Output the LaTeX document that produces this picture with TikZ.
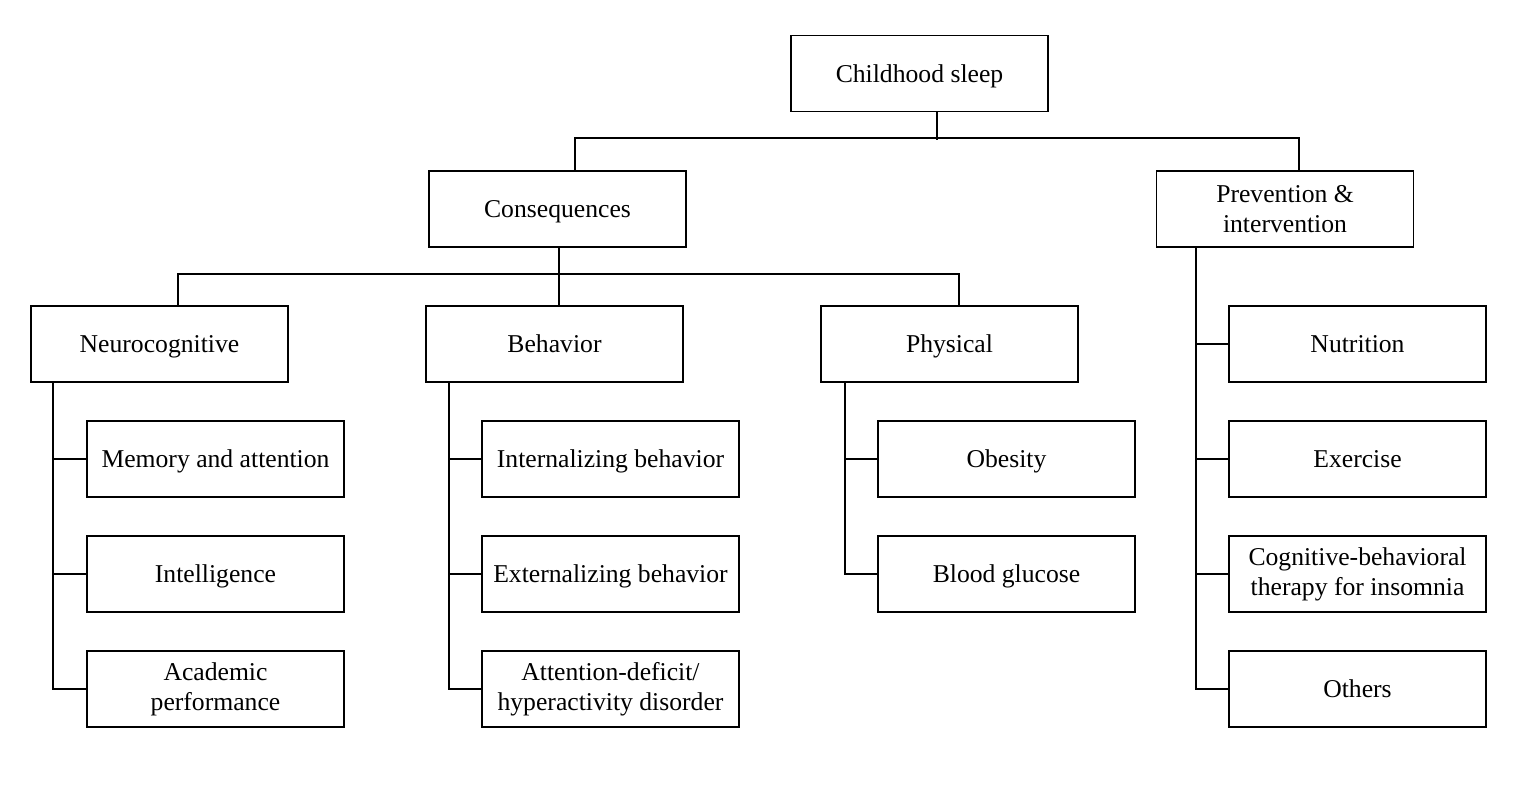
\documentclass[tikz,border=0pt]{standalone}
\usepackage{fontspec}
\setmainfont{Liberation Serif}
\usepackage{tikz}

\tikzset{
  box/.style={draw, line width=0.5pt, minimum width=2.57cm, minimum height=0.76cm,
    inner sep=1pt, align=center, font=\fontsize{7.3}{8.6}\selectfont},
  one/.style={box, text height=1.55ex, text depth=0.45ex},
  link/.style={line width=0.5pt}
}

\begin{document}
\begin{tikzpicture}
\useasboundingbox (0,0) rectangle (15.28,-8.06);
% top levels
\node[one] (root) at (9.195,-0.735) {Childhood sleep};
\node[one] (cons) at (5.575,-2.09) {Consequences};
\node[box] (prev) at (12.85,-2.09) {Prevention \&\\intervention};
% consequence groups
\node[one] (neuro) at (1.595,-3.44) {Neurocognitive};
\node[one] (beh) at (5.545,-3.44) {Behavior};
\node[one] (phys) at (9.495,-3.44) {Physical};
% leaves
\node[one] (mem) at (2.155,-4.59) {Memory and attention};
\node[one] (intel) at (2.155,-5.74) {Intelligence};
\node[box] (acad) at (2.155,-6.89) {Academic\\performance};
\node[one] (inter) at (6.105,-4.59) {Internalizing behavior};
\node[one] (exter) at (6.105,-5.74) {Externalizing behavior};
\node[box] (adhd) at (6.105,-6.89) {Attention-deficit/\\hyperactivity disorder};
\node[one] (obes) at (10.065,-4.59) {Obesity};
\node[one] (gluc) at (10.065,-5.74) {Blood glucose};
\node[one] (nutr) at (13.575,-3.44) {Nutrition};
\node[one] (exer) at (13.575,-4.59) {Exercise};
\node[box] (cbti) at (13.575,-5.74) {Cognitive-behavioral\\therapy for insomnia};
\node[one] (other) at (13.575,-6.89) {Others};

% connectors
\draw[link] ([xshift=1.75mm]root.south) -- ++(0,-0.28);
\draw[link] ([xshift=1.75mm]cons.north) -- ++(0,0.32) -| ([xshift=1.4mm]prev.north);
\draw[link] ([xshift=0.15mm]cons.south) -- ++(0,-0.28);
\draw[link] ([xshift=1.85mm]neuro.north) -- ++(0,0.31) -| ([xshift=0.95mm]phys.north);
\draw[link] ([xshift=0.45mm]beh.north) -- ++(0,0.31);

\draw[link] ([xshift=2.3mm]neuro.south west) |- (acad.west);
\draw[link] ([xshift=2.4mm]beh.south west) |- (adhd.west);
\draw[link] ([xshift=2.5mm]phys.south west) |- (gluc.west);
\draw[link] ([xshift=4mm]prev.south west) |- (other.west);
\foreach \n in {mem,intel,inter,exter,obes,nutr,exer,cbti}
  \draw[link] (\n.west) -- ++(-0.32,0);
\end{tikzpicture}
\end{document}
